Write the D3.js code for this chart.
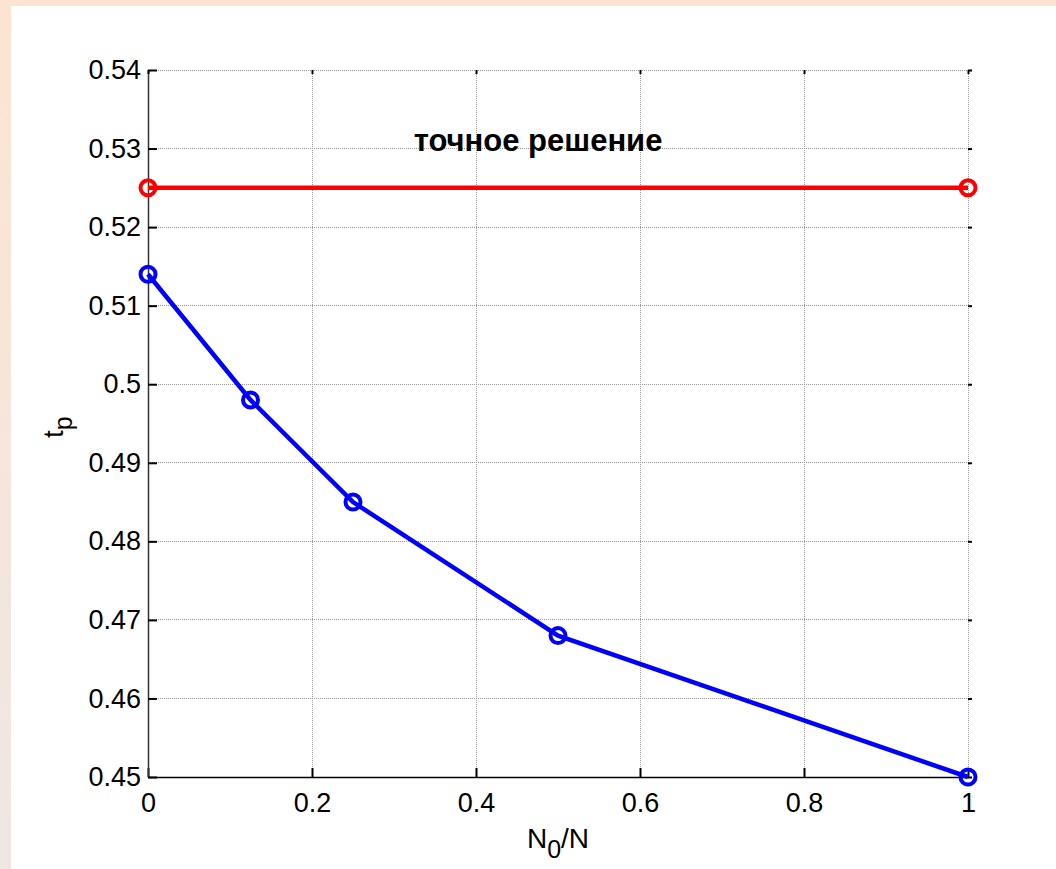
<!DOCTYPE html>
<html>
<head>
<meta charset="utf-8">
<script src="https://cdn.jsdelivr.net/npm/d3@7"></script>
<style>
  html, body { margin: 0; padding: 0; background: #fff; }
  svg { display: block; font-family: "Liberation Sans", Arial, sans-serif; }
</style>
</head>
<body>
<div id="chart"></div>
<script>
// values
const xTicks = [0, 0.2, 0.4, 0.6, 0.8, 1];
const yTicks = [0.45, 0.46, 0.47, 0.48, 0.49, 0.5, 0.51, 0.52, 0.53, 0.54];
const ratio = [0, 0.125, 0.25, 0.5, 1];
const tpApprox = [0.514, 0.498, 0.485, 0.468, 0.450];
const exactRatio = [0, 1];
const tpExact = [0.525, 0.525];
const exactLabel = "точное решение";

const svgWidth = 1056, svgHeight = 869;
const plotLeft = 148, plotRight = 968, plotTop = 70, plotBottom = 777;

const svg = d3.select("#chart").append("svg")
    .attr("width", svgWidth).attr("height", svgHeight);

// peach frame strips (top and left)
let defs = svg.append("defs");
let grad = defs.append("linearGradient").attr("id", "edge")
    .attr("x1", 0).attr("y1", 0).attr("x2", 0).attr("y2", 1);
grad.append("stop").attr("offset", "0%").attr("stop-color", "#fde4d1");
grad.append("stop").attr("offset", "100%").attr("stop-color", "#efe7e4");
svg.append("rect").attr("x", 0).attr("y", 0).attr("width", svgWidth).attr("height", 6).attr("fill", "#fde4d1");
svg.append("rect").attr("x", 0).attr("y", 0).attr("width", 11).attr("height", svgHeight).attr("fill", "url(#edge)");

//Scales
let xScale = d3.scaleLinear().domain([0, 1]).range([plotLeft, plotRight]);
let yScale = d3.scaleLinear().domain([0.45, 0.54]).range([plotBottom, plotTop]);
let fmt = d => String(+d.toFixed(2));

//Grid
let grid = svg.append("g");
grid.selectAll("line.gx").data(xTicks).enter().append("line")
    .attr("x1", d => xScale(d)).attr("x2", d => xScale(d))
    .attr("y1", plotTop).attr("y2", plotBottom);
grid.selectAll("line.gy").data(yTicks).enter().append("line")
    .attr("y1", d => yScale(d)).attr("y2", d => yScale(d))
    .attr("x1", plotLeft).attr("x2", plotRight);
grid.selectAll("line").attr("stroke", "#999").attr("stroke-width", 1)
    .attr("stroke-dasharray", "1,1").attr("shape-rendering", "crispEdges");

//Axes (ticks point inward like matlab)
let xAxis = d3.axisBottom(xScale).tickValues(xTicks).tickFormat(fmt).tickSizeInner(-9).tickSizeOuter(0).tickPadding(16);
let yAxis = d3.axisLeft(yScale).tickValues(yTicks).tickFormat(fmt).tickSizeInner(-9).tickSizeOuter(0).tickPadding(7);
let xAxisGroup = svg.append("g").attr("transform", `translate(0, ${plotBottom})`).call(xAxis);
let yAxisGroup = svg.append("g").attr("transform", `translate(${plotLeft}, 0)`).call(yAxis);
let topAxisGroup = svg.append("g").attr("transform", `translate(0, ${plotTop})`)
    .call(d3.axisTop(xScale).tickValues(xTicks).tickFormat("").tickSizeInner(-4).tickSizeOuter(0));
let rightAxisGroup = svg.append("g").attr("transform", `translate(${plotRight}, 0)`)
    .call(d3.axisRight(yScale).tickValues(yTicks).tickFormat("").tickSizeInner(4).tickSizeOuter(0));
topAxisGroup.select("path").remove();
rightAxisGroup.select("path").remove();
svg.selectAll(".tick line").attr("stroke", "#000").attr("stroke-width", 2);
xAxisGroup.select("path").attr("stroke", "#000").attr("stroke-width", 1.5);
yAxisGroup.select("path").attr("stroke", "#333").attr("stroke-width", 1.5);
svg.selectAll(".tick text").attr("font-size", 27).attr("fill", "#000")
    .attr("font-family", "'Liberation Sans', Arial, sans-serif");

//Axis labels
let xl = svg.append("text").attr("x", xScale(0.5)).attr("y", 848)
    .attr("text-anchor", "middle").attr("font-size", 28).attr("fill", "#000");
xl.append("tspan").text("N");
xl.append("tspan").attr("font-size", 25).attr("dy", 10).text("0");
xl.append("tspan").attr("dy", -10).text("/N");

let yl = svg.append("text").attr("transform", "translate(63, 438) rotate(-90)")
    .attr("text-anchor", "start").attr("font-size", 28).attr("fill", "#000");
yl.append("tspan").text("t");
yl.append("tspan").attr("font-size", 25).attr("dy", 9).text("p");

//Lines and markers
let line = d3.line().x(d => xScale(d[0])).y(d => yScale(d[1]));
let approx = ratio.map((r, i) => [r, tpApprox[i]]);
let exact = exactRatio.map((r, i) => [r, tpExact[i]]);

svg.append("path").datum(exact).attr("d", line)
    .attr("fill", "none").attr("stroke", "#ff0000").attr("stroke-width", 4.5);
svg.selectAll("circle.exact").data(exact).enter().append("circle")
    .attr("cx", d => xScale(d[0])).attr("cy", d => yScale(d[1])).attr("r", 7.5)
    .attr("fill", "none").attr("stroke", "#ff0000").attr("stroke-width", 4);

svg.append("path").datum(approx).attr("d", line)
    .attr("fill", "none").attr("stroke", "#0000ff").attr("stroke-width", 4.5);
svg.selectAll("circle.approx").data(approx).enter().append("circle")
    .attr("cx", d => xScale(d[0])).attr("cy", d => yScale(d[1])).attr("r", 7.5)
    .attr("fill", "none").attr("stroke", "#0000ff").attr("stroke-width", 4);

svg.append("text").attr("x", xScale(0.324)).attr("y", 151)
    .attr("font-size", 31).attr("font-weight", "bold").attr("fill", "#000")
    .text(exactLabel);
</script>
</body>
</html>
